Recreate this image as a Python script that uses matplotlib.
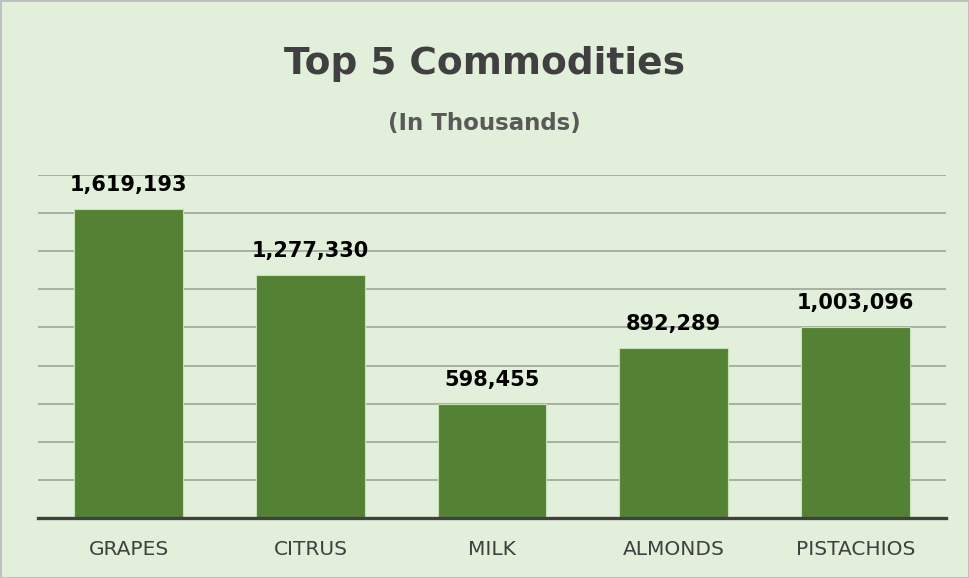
import matplotlib
matplotlib.use('Agg')
import matplotlib.pyplot as plt
from matplotlib.ticker import MultipleLocator

# data (in thousands)
commodities = ['GRAPES', 'CITRUS', 'MILK', 'ALMONDS', 'PISTACHIOS']
values = [1619193, 1277330, 598455, 892289, 1003096]

bg = '#E2EFDA'
bar_color = '#548235'

fig = plt.figure(figsize=(9.69, 5.78), dpi=100, facecolor=bg,
                 edgecolor='#BFBFBF', linewidth=2)
ax = fig.add_axes([38/969, 1 - 518/578, 908/969, (518 - 175)/578])
ax.set_facecolor(bg)

ax.bar(commodities, values, width=0.6, color=bar_color,
       edgecolor='#C5E0B4', linewidth=0.8, zorder=3)

for i, v in enumerate(values):
    ax.annotate(f'{v:,}', (i, v), xytext=(0, 13), textcoords='offset points',
                ha='center', va='baseline', fontsize=15, fontweight='bold',
                color='black', family='DejaVu Sans')

ax.set_ylim(0, 1800000)
ax.set_xlim(-0.5, 4.5)
ax.yaxis.set_major_locator(MultipleLocator(200000))
ax.grid(axis='y', color='#A3AC9D', linewidth=1.3)
ax.set_axisbelow(True)
ax.set_yticklabels([])
ax.tick_params(axis='y', length=0)
ax.tick_params(axis='x', length=0, pad=16, labelsize=14.5, labelcolor='#404040')

# top gridline is fainter in the original
fig.canvas.draw()
glines = ax.get_ygridlines()
glines[-1].set_color('#C9D3C2')

for s in ['top', 'left', 'right']:
    ax.spines[s].set_visible(False)
ax.spines['bottom'].set_color('#404040')
ax.spines['bottom'].set_linewidth(2.4)
ax.spines['bottom'].set_zorder(4)

fig.text(0.5, 1 - 74/578, 'Top 5 Commodities', ha='center', va='baseline',
         fontsize=27, fontweight='bold', color='#404040')
fig.text(0.5, 1 - 130/578, '(In Thousands)', ha='center', va='baseline',
         fontsize=16.5, fontweight='bold', color='#595959')

fig.savefig('out.png', dpi=100, facecolor=fig.get_facecolor(),
            edgecolor=fig.get_edgecolor())
